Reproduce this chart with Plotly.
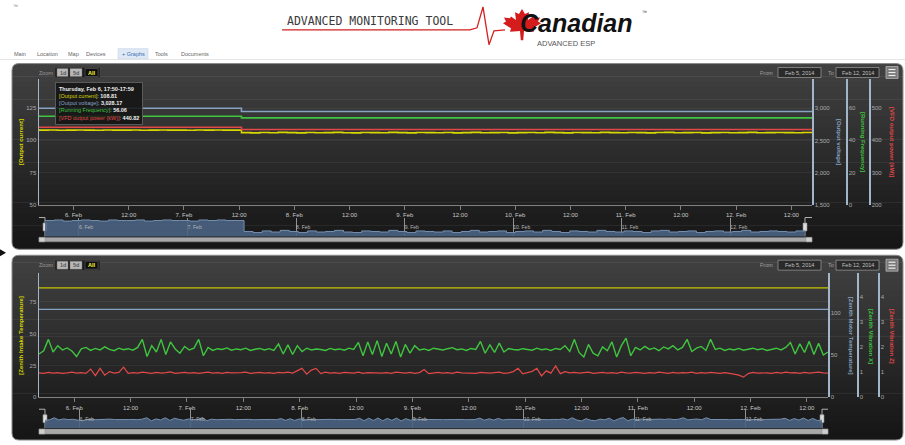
import plotly.graph_objects as go
import pandas as pd

W, H = 905, 445
FONT = "Liberation Sans"

# ---------------- data ----------------
x_start = "2014-02-05 16:30"
x_end = "2014-02-12 16:30"

tick_values = ["2014-02-06 00:00", "2014-02-06 12:00", "2014-02-07 00:00", "2014-02-07 12:00",
               "2014-02-08 00:00", "2014-02-08 12:00", "2014-02-09 00:00", "2014-02-09 12:00",
               "2014-02-10 00:00", "2014-02-10 12:00", "2014-02-11 00:00", "2014-02-11 12:00",
               "2014-02-12 00:00", "2014-02-12 12:00"]
tick_labels = ["6. Feb", "12:00", "7. Feb", "12:00", "8. Feb", "12:00", "9. Feb", "12:00",
               "10. Feb", "12:00", "11. Feb", "12:00", "12. Feb", "12:00"]
nav_tick_values = ["2014-02-06", "2014-02-07", "2014-02-08", "2014-02-09",
                   "2014-02-10", "2014-02-11", "2014-02-12"]
nav_tick_labels = ["6. Feb", "7. Feb", "8. Feb", "9. Feb", "10. Feb", "11. Feb", "12. Feb"]

# top chart
top_titles = ["[Output current]", "[Output voltage]", "[Running Frequency]", "[VFD output power (kW)]"]
step_times = ["2014-02-05 16:30", "2014-02-07 12:30", "2014-02-12 16:30"]
output_voltage = [3000, 2950, 2950]
running_frequency = [55.0, 54.0, 54.0]
vfd_output_power = [441, 434, 434]
output_current = [108.0, 108.1, 107.9, 108.0, 108.1, 108.0, 107.9, 108.1, 108.0, 108.0, 108.1,
                  107.9, 108.0, 108.1, 108.0, 108.0, 107.9, 108.1, 108.0, 108.1, 108.0, 108.0,
                  106.0, 105.8, 106.1, 105.9, 106.2, 106.0, 105.8, 106.1, 105.9, 106.0, 106.2,
                  105.9, 105.8, 106.1, 106.0, 105.9, 106.2, 106.0, 105.8, 106.1, 106.0, 105.9,
                  106.1, 105.8, 106.0, 106.2, 105.9, 106.0, 106.1, 105.8, 106.0, 106.1, 105.9,
                  106.2, 106.0, 105.8, 106.1, 106.0, 105.9, 106.2, 106.0, 105.9, 106.1, 106.0,
                  105.8, 106.1, 106.2, 105.9, 106.0, 106.1, 105.8, 106.0, 106.1, 105.9, 106.0,
                  106.2, 105.9, 106.0, 106.1, 106.0, 105.9, 106.1, 106.0]
current_times = pd.date_range(x_start, periods=len(output_current), freq="2h")

tooltip_title = "Thursday, Feb 6, 17:50-17:59"
tooltip_values = ["108.81", "3,028.17", "56.06", "440.82"]

# bottom chart
bottom_titles = ["[Zenith Intake Temperature]", "[Zenith Motor Temperature]",
                 "[Zenith Vibration X]", "[Zenith Vibration Z]"]
flat_times = [x_start, x_end]
intake_temperature = [86, 86]
motor_temperature = [104, 104]
vibration_x = [1.72, 1.85, 2.30, 1.80, 2.05, 1.88, 1.96, 1.84, 1.62, 1.92, 1.98, 1.86,
               1.94, 1.88, 2.00, 1.90, 1.85, 1.95, 1.89, 1.93, 1.87, 1.98, 2.30, 1.62,
               2.05, 1.80, 2.30, 1.70, 2.20, 1.92, 1.75, 2.02, 1.88, 1.95, 2.30, 1.65,
               1.98, 1.86, 1.93, 1.90, 1.96, 1.87, 1.92, 1.89, 1.95, 1.86, 1.91, 1.94,
               1.88, 1.93, 1.86, 2.12, 1.72, 2.08, 1.70, 2.05, 1.82, 1.95, 1.88, 1.92,
               1.90, 1.86, 1.94, 1.89, 1.92, 1.87, 1.95, 1.90, 2.18, 1.65, 2.20, 1.70,
               2.25, 1.62, 2.15, 1.72, 2.22, 1.60, 2.10, 1.75, 2.05, 1.88, 1.92, 1.86,
               1.95, 1.90, 1.88, 1.93, 1.97, 1.89, 1.92, 1.86, 1.94, 1.90, 2.22, 1.75,
               2.08, 1.78, 2.15, 1.80, 1.94, 1.90, 1.88, 1.93, 1.91, 1.87, 1.95, 1.89,
               1.92, 1.86, 1.94, 1.90, 2.05, 1.82, 2.30, 1.78, 1.60, 2.10, 1.75, 1.65,
               2.00, 1.85, 2.20, 1.60, 2.05, 2.35, 1.65, 1.98, 1.88, 2.02, 1.90, 1.96,
               1.85, 2.00, 1.92, 2.05, 1.88, 1.98, 2.30, 1.82, 1.95, 2.02, 1.86, 2.30,
               1.90, 1.95, 1.86, 1.92, 1.88, 1.94, 1.87, 1.91, 1.95, 1.89, 1.93, 1.86,
               1.92, 1.95, 1.88, 1.98, 2.18, 1.72, 2.12, 1.78, 2.22, 1.70, 2.15, 1.68, 1.80]
vibration_z = [0.97, 0.95, 0.99, 0.96, 0.98, 0.95, 0.97, 1.00, 0.96, 0.98, 0.95, 1.12,
               0.86, 1.15, 0.88, 1.02, 0.96, 0.99, 1.20, 0.95, 0.98, 0.96, 1.00, 0.97,
               0.95, 0.99, 0.96, 0.98, 1.01, 0.95, 0.97, 0.99, 0.96, 0.98, 0.95, 0.97,
               1.00, 0.96, 0.98, 0.95, 0.99, 0.97, 0.96, 0.98, 1.00, 0.95, 0.97, 0.99,
               0.96, 0.98, 0.95, 0.99, 0.97, 1.00, 0.96, 1.05, 1.15, 0.92, 1.08, 1.15,
               0.94, 1.00, 0.96, 0.98, 0.95, 0.99, 0.97, 0.96, 1.00, 0.95, 0.98, 0.97,
               0.99, 0.96, 0.98, 0.95, 1.00, 0.97, 0.96, 0.99, 0.95, 0.98, 1.10, 0.94,
               0.97, 0.99, 0.96, 0.98, 0.95, 1.00, 0.97, 0.96, 0.98, 0.95, 0.99, 0.97,
               0.96, 0.98, 1.00, 0.95, 0.97, 1.02, 1.15, 0.93, 0.99, 1.03, 1.15, 0.85,
               1.05, 0.96, 1.25, 0.94, 1.02, 0.97, 0.99, 0.96, 0.98, 1.00, 0.95, 0.97,
               0.99, 0.96, 0.98, 0.95, 1.00, 0.97, 0.96, 0.99, 0.97, 0.95, 0.98, 0.96,
               1.00, 0.97, 0.95, 0.99, 0.96, 0.98, 0.97, 1.00, 0.95, 0.98, 0.96, 0.99,
               0.97, 0.95, 0.98, 0.96, 0.92, 0.88, 0.80, 0.94, 0.99, 0.96, 0.98, 0.97,
               0.95, 0.99, 0.96, 1.00, 0.97, 0.98, 0.95, 0.99, 0.96, 0.98, 1.00, 0.97, 0.96]
vib_times = pd.date_range(x_start, periods=len(vibration_x), freq="h")

menu_items = ["Main", "Location", "Map", "Devices", "+ Graphs", "Tools", "Documents"]
zoom_buttons = ["1d", "5d", "All"]
range_from, range_to = "Feb 5, 2014", "Feb 12, 2014"

# ---------------- styling helpers ----------------
YEL, BLU, GRN, RED = "#d8d800", "#86a3c3", "#3fc53f", "#e24848"


def X(x):
    return x / W


def Y(y):
    return 1 - y / H


def pt(x, y):
    return f"{X(x):.5f},{Y(y):.5f}"


shapes, annotations = [], []


def rect(x0, y0, x1, y1, fill, line=None, lw=0):
    shapes.append(dict(type="rect", xref="paper", yref="paper", x0=X(x0), x1=X(x1),
                       y0=Y(y1), y1=Y(y0), fillcolor=fill, layer="below",
                       line=dict(color=line or fill, width=lw)))


def path(d, fill="rgba(0,0,0,0)", line="rgba(0,0,0,0)", lw=0, layer="below"):
    shapes.append(dict(type="path", xref="paper", yref="paper", path=d, fillcolor=fill,
                       layer=layer, line=dict(color=line, width=lw)))


def text(s, x, y, size=6, color="#aaaaaa", xanchor="center", yanchor="middle",
         angle=0, family=FONT, **kw):
    annotations.append(dict(text=s, x=X(x), y=Y(y), xref="paper", yref="paper",
                            showarrow=False, xanchor=xanchor, yanchor=yanchor,
                            textangle=angle, font=dict(size=size, color=color, family=family), **kw))


def rounded(x0, y0, x1, y1, r, top=True, bottom=True):
    if top:
        d = (f"M {pt(x0, y0 + r)} Q {pt(x0, y0)} {pt(x0 + r, y0)} L {pt(x1 - r, y0)} "
             f"Q {pt(x1, y0)} {pt(x1, y0 + r)} ")
    else:
        d = f"M {pt(x0, y0)} L {pt(x1, y0)} "
    if bottom:
        d += (f"L {pt(x1, y1 - r)} Q {pt(x1, y1)} {pt(x1 - r, y1)} L {pt(x0 + r, y1)} "
              f"Q {pt(x0, y1)} {pt(x0, y1 - r)} Z")
    else:
        d += f"L {pt(x1, y1)} L {pt(x0, y1)} Z"
    return d


def mix(c0, c1, t):
    return "#%02x%02x%02x" % tuple(int(round(a + (b - a) * t)) for a, b in zip(c0, c1))


def panel(y0, y1, x0=12, x1=903, r=7):
    c0, c1 = (64, 64, 64), (22, 22, 22)
    n = 30
    path(rounded(x0, y0, x1, y0 + r + 0.6, r, True, False), fill=mix(c0, c1, 0))
    path(rounded(x0, y1 - r - 0.6, x1, y1, r, False, True), fill=mix(c0, c1, 1))
    h = (y1 - y0 - 2 * r) / n
    for i in range(n):
        ya = y0 + r + i * h
        rect(x0, ya, x1, ya + h + 0.6, mix(c0, c1, (i + 0.5) / n))
    path(rounded(x0, y0, x1, y1, r), line="#8a8a8a", lw=1)


def controls(yc):
    text("Zoom", 46, yc, size=5.5, color="#9a9a9a")
    rect(55, yc - 5, 100, yc + 5, "#1b1b1b", "#4a4a4a", 0.5)
    for lab, xa, xb in zip(zoom_buttons, [57, 70, 85], [68, 82, 98]):
        active = lab == "All"
        rect(xa, yc - 4, xb, yc + 4, "#0e0e0e" if active else "#b8b8b8", "#777777", 0.5)
        text(f"<b>{lab}</b>", (xa + xb) / 2, yc, size=5.5, color="#ffff33" if active else "#555555")
    text("From", 766, yc, size=5.5, color="#a0a0a0")
    rect(778, yc - 5, 821, yc + 5, "#2a2a2a", "#a0a0a0", 0.7)
    text(range_from, 799.5, yc, size=5.5, color="#c0c0c0")
    text("To", 831, yc, size=5.5, color="#a0a0a0")
    rect(836, yc - 5, 879, yc + 5, "#2a2a2a", "#a0a0a0", 0.7)
    text(range_to, 857.5, yc, size=5.5, color="#c0c0c0")
    rect(886, yc - 6, 898, yc + 6, "#7a7a7a", "#b5b5b5", 0.8)
    for dy in (-3, 0, 3):
        rect(888.5, yc + dy - 0.6, 895.5, yc + dy + 0.6, "#eeeeee")


def navigator_decor(y_top, y_bot, x_left, x_right, x_end_px, y_sb0, y_sb1):
    path(f"M {pt(39, y_top)} L {pt(x_left, y_top)} L {pt(x_left, y_bot)}", line="#b0b0b0", lw=1)
    path(f"M {pt(x_right, y_bot)} L {pt(x_right, y_top)} L {pt(x_end_px, y_top)}", line="#b0b0b0", lw=1)
    ym = (y_top + y_bot) / 2
    for xh in (x_left, x_right):
        rect(xh - 2, ym - 4, xh + 2, ym + 4, "#dcdcdc", "#8a8a8a", 0.6)
    rect(39, y_sb0, x_end_px, y_sb1, "#a8a8a8", "#8a8a8a", 0.5)
    rect(39, y_sb0, 45, y_sb1, "#cfcfcf", "#8a8a8a", 0.5)
    rect(x_end_px - 6, y_sb0, x_end_px, y_sb1, "#cfcfcf", "#8a8a8a", 0.5)


# ---------------- header ----------------
text("™", 15, 6, size=5, color="#777777")
text("ADVANCED MONITORING TOOL", 370, 21, size=11.5, color="#3a3a3a", family="DejaVu Sans Mono")
path(f"M {pt(282, 30)} L {pt(470, 30)} L {pt(477, 28)} L {pt(483, 7)} L {pt(489, 45)} "
     f"L {pt(494, 31)} L {pt(505, 30)}", line="#d42020", lw=1.3)
leaf = [(0, -1), (0.15, -0.7), (0.35, -0.8), (0.3, -0.35), (0.55, -0.55), (0.6, -0.45),
        (0.9, -0.5), (0.8, -0.25), (0.95, -0.15), (0.55, 0.15), (0.6, 0.35), (0.1, 0.3),
        (0.06, 0.85), (-0.06, 0.85), (-0.1, 0.3), (-0.6, 0.35), (-0.55, 0.15), (-0.95, -0.15),
        (-0.8, -0.25), (-0.9, -0.5), (-0.6, -0.45), (-0.55, -0.55), (-0.3, -0.35), (-0.35, -0.8),
        (-0.15, -0.7)]
path("M " + " L ".join(pt(522 + 20 * u, 26 + 17 * v) for u, v in leaf) + " Z", fill="#d41c1c")
text("<b><i>Canadian</i></b>", 518, 39, size=25, color="#111111", xanchor="left",
     yanchor="bottom", family="Liberation Sans")
text("™", 640, 12, size=5, color="#333333", xanchor="left")
text("ADVANCED ESP", 566, 44, size=7.5, color="#555555", family="Liberation Sans")

# menu
rect(0, 59.5, 905, 60.2, "#dddddd")
for item, xc in zip(menu_items, [20, 47, 73, 96, 133, 161, 195]):
    if item.startswith("+"):
        rect(xc - 15, 49, xc + 15, 59, "#dfe9f6", "#b9cce4", 0.5)
        text(item, xc, 54, size=5.5, color="#3a6fb0")
    else:
        text(item, xc, 54, size=5.5, color="#666666")

# left arrow
path(f"M {pt(0, 251)} L {pt(6, 254.5)} L {pt(0, 258)} Z", fill="#111111")

# ---------------- panels ----------------
panel(64, 251)
panel(257, 443)
controls(73)
controls(267)
navigator_decor(219, 238, 45, 805, 812, 239, 243.5)
navigator_decor(412, 431, 45, 822, 828, 432, 437)

# axis titles (annotations)
for s, xx, ang, col in zip(top_titles, [21, 839, 863, 892], [-90, 90, 90, 90], [YEL, BLU, GRN, RED]):
    text(f"<b>{s}</b>", xx, 143, size=6, color=col, angle=ang)
for s, xx, ang, col in zip(bottom_titles, [21, 851, 871, 892], [-90, 90, 90, 90], [YEL, BLU, GRN, RED]):
    text(f"<b>{s}</b>", xx, 338, size=6, color=col, angle=ang)

# tooltip
tt = f"<b>{tooltip_title}</b>"
for name, val, col in zip(top_titles, tooltip_values, [YEL, BLU, GRN, RED]):
    tt += f"<br><span style='color:{col}'>{name}</span>: <b>{val}</b>"
annotations.append(dict(text=tt, x=X(55), y=Y(83), xref="paper", yref="paper", xanchor="left",
                        yanchor="top", align="left", showarrow=False,
                        bgcolor="rgba(20,20,20,0.88)", bordercolor="#5a5a5a", borderwidth=1,
                        borderpad=3, font=dict(size=5.5, color="#f0f0f0", family=FONT)))

# ---------------- traces ----------------
fig = go.Figure()
fig.add_trace(go.Scatter(x=current_times, y=output_current, xaxis="x", yaxis="y", mode="lines",
                         line=dict(color=YEL, width=1.6, shape="hv"), name=top_titles[0]))
fig.add_trace(go.Scatter(x=step_times, y=output_voltage, xaxis="x", yaxis="y2", mode="lines",
                         line=dict(color=BLU, width=1.6, shape="hv"), name=top_titles[1]))
fig.add_trace(go.Scatter(x=step_times, y=running_frequency, xaxis="x", yaxis="y3", mode="lines",
                         line=dict(color=GRN, width=1.6, shape="hv"), name=top_titles[2]))
fig.add_trace(go.Scatter(x=step_times, y=vfd_output_power, xaxis="x", yaxis="y4", mode="lines",
                         line=dict(color=RED, width=1.6, shape="hv"), name=top_titles[3]))
fig.add_trace(go.Scatter(x=current_times, y=output_current, xaxis="x2", yaxis="y5", mode="lines",
                         fill="tozeroy", fillcolor="rgba(74,99,130,0.9)",
                         line=dict(color="#7590b0", width=1, shape="hv")))

fig.add_trace(go.Scatter(x=flat_times, y=intake_temperature, xaxis="x3", yaxis="y6", mode="lines",
                         line=dict(color="#c4c400", width=1.2), name=bottom_titles[0]))
fig.add_trace(go.Scatter(x=flat_times, y=motor_temperature, xaxis="x3", yaxis="y7", mode="lines",
                         line=dict(color=BLU, width=1.2), name=bottom_titles[1]))
fig.add_trace(go.Scatter(x=vib_times, y=vibration_x, xaxis="x3", yaxis="y8", mode="lines",
                         line=dict(color=GRN, width=1.4), name=bottom_titles[2]))
fig.add_trace(go.Scatter(x=vib_times, y=vibration_z, xaxis="x3", yaxis="y9", mode="lines",
                         line=dict(color=RED, width=1.2), name=bottom_titles[3]))
fig.add_trace(go.Scatter(x=vib_times, y=vibration_x, xaxis="x4", yaxis="y10", mode="lines",
                         fill="tozeroy", fillcolor="rgba(74,99,130,0.9)",
                         line=dict(color="#7590b0", width=1)))

# ---------------- axes ----------------
yl = dict(showline=True, linecolor="#a3b5c8", linewidth=1.5, ticks="",
          tickfont=dict(size=6, color="#aaaaaa", family=FONT), zeroline=False, showgrid=False)
xm = dict(type="date", range=[x_start, x_end], tickmode="array", tickvals=tick_values,
          ticktext=tick_labels, showline=True, linecolor="#808080", linewidth=1, ticks="outside",
          ticklen=4, tickcolor="#808080", tickfont=dict(size=6, color="#c8c8c8", family=FONT),
          showgrid=False, zeroline=False)
xn = dict(type="date", range=[x_start, x_end], tickmode="array", tickvals=nav_tick_values,
          ticktext=nav_tick_labels, showgrid=True, gridcolor="#929292", gridwidth=1,
          showline=False, ticks="", ticklabelposition="inside right",
          tickfont=dict(size=5, color="#b5b5b5", family=FONT), zeroline=False)
grid = dict(showgrid=True, gridcolor="rgba(255,255,255,0.05)")

fig.update_layout(
    width=W, height=H, margin=dict(l=0, r=0, t=0, b=0), paper_bgcolor="white",
    plot_bgcolor="rgba(0,0,0,0)", showlegend=False, hovermode=False,
    shapes=shapes, annotations=annotations,
    xaxis=dict(**xm, domain=[X(39), X(812)], anchor="y"),
    yaxis=dict(**{**yl, **grid}, domain=[Y(206), Y(80)], anchor="x", range=[50, 147.4],
               tickvals=[50, 75, 100, 125]),
    yaxis2=dict(**yl, overlaying="y", side="right", anchor="free", position=X(812),
                range=[1500, 3449], tickvals=[1500, 2000, 2500, 3000], tickformat=","),
    yaxis3=dict(**yl, overlaying="y", side="right", anchor="free", position=X(846),
                range=[0, 77.9], tickvals=[0, 20, 40, 60]),
    yaxis4=dict(**yl, overlaying="y", side="right", anchor="free", position=X(869),
                range=[200, 589.7], tickvals=[200, 300, 400, 500]),
    xaxis2=dict(**xn, domain=[X(45), X(805)], anchor="y5"),
    yaxis5=dict(domain=[Y(238), Y(219)], anchor="x2", range=[105.1, 108.55], visible=False),
    xaxis3=dict(**xm, domain=[X(39), X(828)], anchor="y6"),
    yaxis6=dict(**{**yl, **grid}, domain=[Y(400), Y(275)], anchor="x3", range=[0, 97.6],
                tickvals=[0, 25, 50, 75]),
    yaxis7=dict(**yl, overlaying="y6", side="right", anchor="free", position=X(828),
                range=[0, 147], tickvals=[0, 50, 100]),
    yaxis8=dict(**yl, overlaying="y6", side="right", anchor="free", position=X(857),
                range=[0, 4.93], tickvals=[0, 1, 2, 3, 4]),
    yaxis9=dict(**yl, overlaying="y6", side="right", anchor="free", position=X(878),
                range=[0, 4.93], tickvals=[0, 1, 2, 3, 4]),
    xaxis4=dict(**xn, domain=[X(45), X(822)], anchor="y10"),
    yaxis10=dict(domain=[Y(431), Y(412)], anchor="x4", range=[0, 4.2], visible=False),
)

fig.write_html("out.html", config={"displayModeBar": False, "staticPlot": True},
               post_script="document.body.style.margin='0';document.body.style.overflow='hidden';")
